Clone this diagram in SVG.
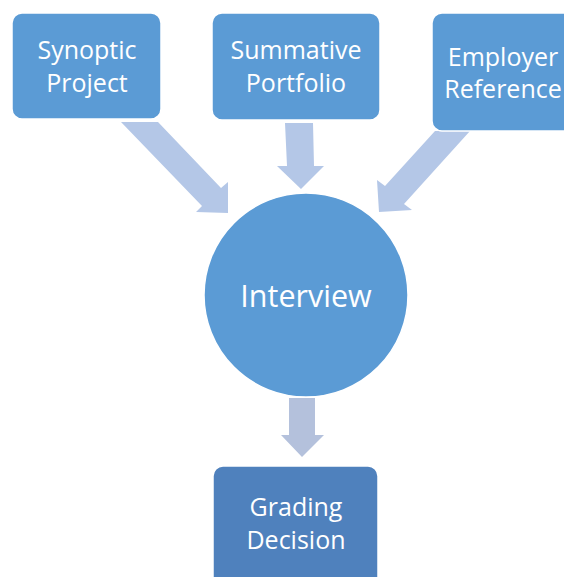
<svg xmlns="http://www.w3.org/2000/svg" width="564" height="577" viewBox="0 0 564 577">
<style>
.box{fill:#5b9bd5;stroke:#ffffff;stroke-width:1.5}
.dark{fill:#4f81bd;stroke:#ffffff;stroke-width:1.5}
.arr{fill:#b4c7e7}
.arr2{fill:#b4c1dc}
.t{font-family:"Open Sans","Liberation Sans",sans-serif;fill:#ffffff;text-anchor:middle;font-size:25px}
.tb{font-family:"Open Sans","Liberation Sans",sans-serif;fill:#ffffff;text-anchor:middle;font-size:30.5px}
</style>
<rect width="564" height="577" fill="#ffffff"/>
<g id="connectors">
<polygon class="arr" points="121,122 158,122 221,188 228,182 228,213 196,212 202,206"/>
<polygon class="arr" points="285,123 313,123 314,166 324,166 301,189 277,166 287,166"/>
<polygon class="arr" points="435,131 470,131 404,204 412,210 379,212 377,180 385,186"/>
<polygon class="arr2" points="289,398 315,398 315,435 324,435 302,457 281,435 289,435"/>
</g>
<g id="synoptic">
<rect class="box" x="12" y="13" width="149" height="106" rx="10"/>
<text class="t" x="87" y="59">Synoptic</text>
<text class="t" x="87" y="92">Project</text>
</g>
<g id="summative">
<rect class="box" x="212" y="13" width="168" height="107" rx="10"/>
<text class="t" x="296" y="59">Summative</text>
<text class="t" x="296" y="92">Portfolio</text>
</g>
<g id="employer">
<rect class="box" x="432" y="13" width="145" height="118" rx="10"/>
<text class="t" x="503" y="66">Employer</text>
<text class="t" x="503" y="98">Reference</text>
</g>
<g id="interview">
<circle class="box" cx="306" cy="295" r="102"/>
<text class="tb" x="306" y="307">Interview</text>
</g>
<g id="grading">
<rect class="dark" x="213" y="466" width="165" height="125" rx="10"/>
<text class="t" x="296" y="516">Grading</text>
<text class="t" x="296" y="549">Decision</text>
</g>
</svg>
